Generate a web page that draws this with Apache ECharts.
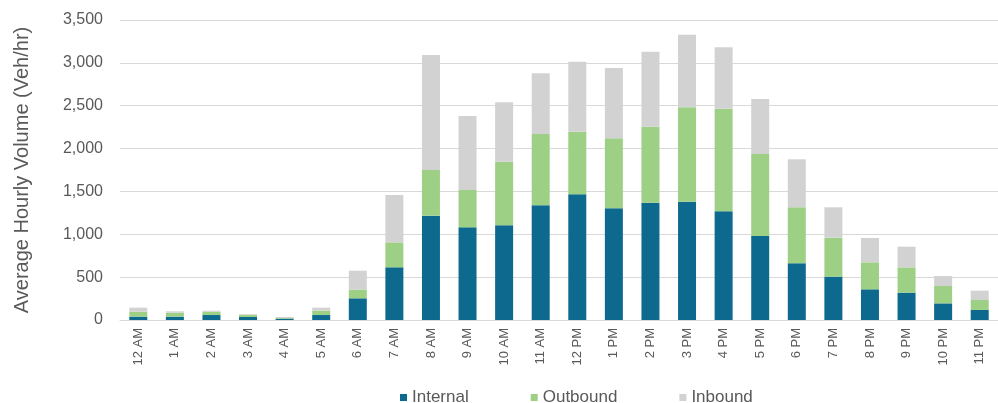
<!DOCTYPE html>
<html>
<head>
<meta charset="utf-8">
<script src="https://cdn.jsdelivr.net/npm/echarts@6/dist/echarts.min.js"></script>
<style>
html,body{margin:0;padding:0;background:#fff;}
#chart{width:998px;height:403px;}
</style>
</head>
<body>
<div id="chart"></div>
<script>
var categories = ['12 AM','1 AM','2 AM','3 AM','4 AM','5 AM','6 AM','7 AM','8 AM','9 AM','10 AM','11 AM',
  '12 PM','1 PM','2 PM','3 PM','4 PM','5 PM','6 PM','7 PM','8 PM','9 PM','10 PM','11 PM'];
var internal = [39, 39, 58, 35, 16, 58, 253, 614, 1217, 1081, 1105, 1338, 1466, 1303, 1369, 1380, 1268, 980, 661, 506, 358, 319, 194, 117];
var outbound = [58, 46, 39, 23, 7, 51, 102, 292, 533, 436, 742, 832, 731, 817, 886, 1101, 1197, 957, 654, 454, 315, 295, 203, 116];
var inbound = [47, 16, 12, 8, 12, 35, 220, 552, 1342, 863, 693, 708, 817, 820, 876, 848, 716, 641, 560, 355, 284, 241, 116, 109];
var yTicks = [0, 500, 1000, 1500, 2000, 2500, 3000, 3500];

var textColor = '#595959';
var chart = echarts.init(document.getElementById('chart'), null, {renderer: 'canvas'});
chart.setOption({
  animation: false,
  backgroundColor: '#ffffff',
  textStyle: {fontFamily: 'Liberation Sans, Arial, sans-serif'},
  grid: {left: 120, right: -8, top: 20, bottom: 83, containLabel: false},
  legend: {
    left: 395, top: 384,
    itemWidth: 7, itemHeight: 7, itemGap: 62,
    icon: 'rect',
    textStyle: {fontSize: 17, color: textColor, fontFamily: 'Liberation Sans, Arial, sans-serif'},
    data: ['Internal', 'Outbound', 'Inbound']
  },
  xAxis: {
    type: 'category',
    data: categories,
    boundaryGap: true,
    axisLine: {show: true, lineStyle: {color: '#d9d9d9', width: 1}},
    axisTick: {show: false},
    axisLabel: {rotate: 90, fontSize: 13, color: textColor, margin: 8, interval: 0}
  },
  yAxis: {
    type: 'value',
    min: yTicks[0], max: yTicks[yTicks.length - 1], interval: yTicks[1] - yTicks[0],
    name: 'Average Hourly Volume (Veh/hr)',
    nameLocation: 'middle',
    nameGap: 88,
    nameTextStyle: {fontSize: 20, color: textColor},
    axisLine: {show: false},
    axisTick: {show: false},
    splitLine: {lineStyle: {color: '#d9d9d9', width: 1}},
    axisLabel: {
      fontSize: 16, color: textColor, margin: 17,
      formatter: function (v) { return v.toLocaleString('en-US'); }
    }
  },
  series: [
    {name: 'Internal', type: 'bar', stack: 'total', data: internal, barWidth: 18, itemStyle: {color: '#0d6a8e'}},
    {name: 'Outbound', type: 'bar', stack: 'total', data: outbound, barWidth: 18, itemStyle: {color: '#9dd085'}},
    {name: 'Inbound', type: 'bar', stack: 'total', data: inbound, barWidth: 18, itemStyle: {color: '#d2d2d2'}}
  ]
});
</script>
</body>
</html>
